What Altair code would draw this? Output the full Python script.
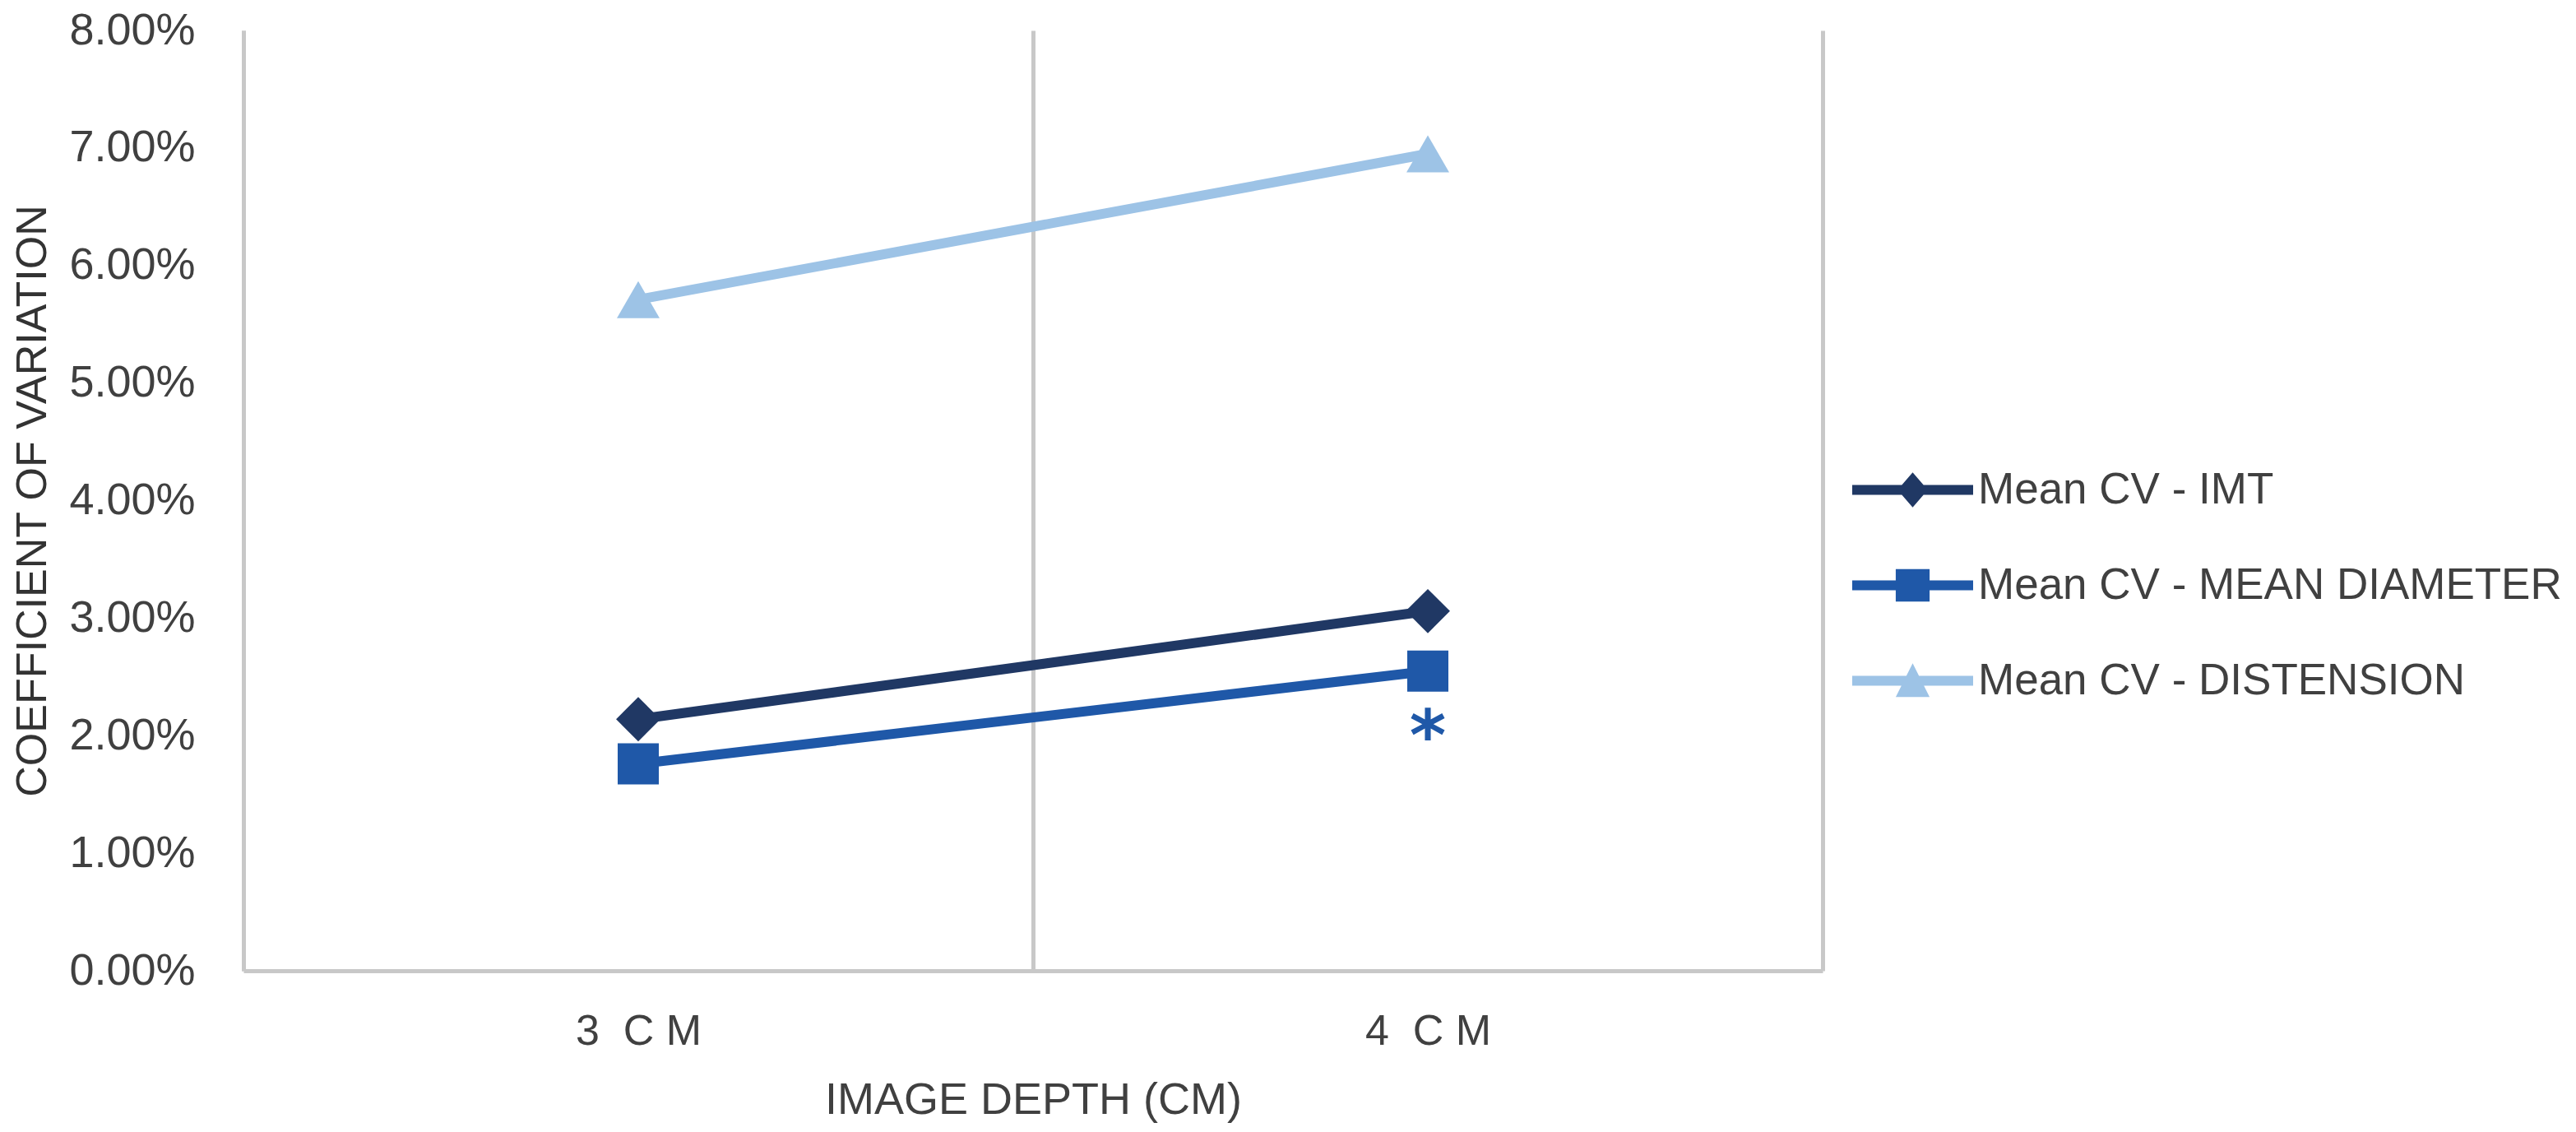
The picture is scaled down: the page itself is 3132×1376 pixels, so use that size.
import altair as alt
import pandas as pd

# ---- data ----
depths = ["3 CM", "4 CM"]
series_names = ["Mean CV - IMT", "Mean CV - MEAN DIAMETER", "Mean CV - DISTENSION"]
imt_cv = [0.0214, 0.0306]
diameter_cv = [0.0176, 0.0255]
distension_cv = [0.0571, 0.0695]
y_ticks = [0.0, 0.01, 0.02, 0.03, 0.04, 0.05, 0.06, 0.07, 0.08]
annotation_text = ["*"]          # marker shown under MEAN DIAMETER at 4 CM

# ---- styles ----
colors = ["#203864", "#1F58A8", "#9DC3E6"]
marker_shapes = ["diamond", "square", "triangle-up"]
marker_sizes = [2900, 2500, 2700]
legend_paths = [
    "M-1,-0.08L1,-0.08L1,0.08L-1,0.08Z M-0.25,0L0,-0.29L0.25,0L0,0.29Z",
    "M-1,-0.08L1,-0.08L1,0.08L-1,0.08Z M-0.28,-0.27L0.28,-0.27L0.28,0.27L-0.28,0.27Z",
    "M-1,-0.08L1,-0.08L1,0.08L-1,0.08Z M0,-0.29L0.28,0.27L-0.28,0.27Z",
]
FONT = "Liberation Sans"
TXT = "#404040"
GRID = "#C8C8C8"

rows = []
for name, vals in zip(series_names, [imt_cv, diameter_cv, distension_cv]):
    for d, v in zip(depths, vals):
        rows.append({"depth": d, "series": name, "cv": v})
df = pd.DataFrame(rows)

ann = pd.DataFrame({"depth": [depths[1]], "series": [series_names[1]],
                    "cv": [diameter_cv[1]], "label": annotation_text})

x_enc = alt.X(
    "depth:N", sort=depths,
    scale=alt.Scale(type="band", domain=depths, paddingInner=0, paddingOuter=0),
    axis=alt.Axis(
        title="IMAGE DEPTH (CM)", tickBand="extent", grid=True, gridColor=GRID, gridWidth=5,
        ticks=False, tickSize=0, domain=True, domainColor=GRID, domainWidth=5,
        labelAngle=0, labelFont=FONT, labelFontSize=52, labelColor=TXT, labelPadding=48,
        labelExpr="replace(datum.label, ' CM', '\u00a0 C M')",
        titleFont=FONT, titleFontSize=54, titleFontWeight="normal", titleColor=TXT, titlePadding=31,
    ),
)
y_enc = alt.Y(
    "cv:Q",
    scale=alt.Scale(domain=[0, 0.08], nice=False, zero=True),
    axis=alt.Axis(
        title="COEFFICIENT OF VARIATION", values=y_ticks, format=".2%", grid=False,
        ticks=False, tickSize=0, domain=True, domainColor=GRID, domainWidth=5,
        labelFont=FONT, labelFontSize=54, labelColor=TXT, labelPadding=59,
        titleFont=FONT, titleFontSize=52, titleFontWeight="normal", titleColor="#333333",
        titlePadding=30,
    ),
)
color_scale = alt.Scale(domain=series_names, range=colors)

base = alt.Chart(df).encode(x=x_enc, y=y_enc)

layers = []
for name, col in zip(series_names, colors):
    layers.append(
        base.transform_filter(alt.datum.series == name).mark_line(strokeWidth=12, color=col)
    )
for name, shp, sz, col in zip(series_names, marker_shapes, marker_sizes, colors):
    layers.append(
        base.transform_filter(alt.datum.series == name)
        .mark_point(shape=shp, size=sz, filled=True, opacity=1, color=col, strokeWidth=0)
    )

leg = alt.Legend(
    title=None, orient="none", legendX=1956, legendY=485,
    symbolSize=21609, symbolStrokeWidth=0, symbolOpacity=1,
    labelFont=FONT, labelFontSize=53, labelColor=TXT, labelOffset=6, labelLimit=2000,
    rowPadding=15, padding=0,
)
legend_layer = base.mark_point(filled=True, opacity=0).encode(
    color=alt.Color("series:N", scale=color_scale, legend=leg),
    shape=alt.Shape("series:N", scale=alt.Scale(domain=series_names, range=legend_paths), legend=leg),
)
layers.append(legend_layer)

star = alt.Chart(ann).mark_text(
    dy=82, fontSize=85, font="DejaVu Sans", fontWeight="bold", color=colors[1]
).encode(x=x_enc, y=y_enc, text="label:N")
layers.append(star)

chart = alt.layer(*layers).properties(
    width=1920, height=1143,
    autosize=alt.AutoSizeParams(type="none"),
    padding={"left": 288, "top": 29, "right": 908, "bottom": 188},
    background="white",
).configure_view(stroke=None)

chart.save("out.html", embed_options={"renderer": "svg", "actions": False})
